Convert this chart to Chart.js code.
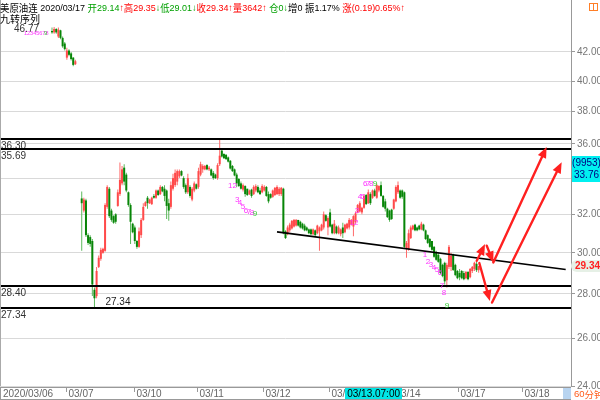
<!DOCTYPE html>
<html><head><meta charset="utf-8">
<script src="https://cdn.jsdelivr.net/npm/chart.js@4.4.0/dist/chart.umd.min.js"></script>
<style>html,body{margin:0;padding:0;background:#fff;overflow:hidden}</style>
</head><body>
<canvas id="c" width="600" height="400"></canvas>
<script>
// ---------- data ----------
const slotCount = 269;      // hourly slots across the plot (incl. empty future space)
const firstSlot = 24;       // slot of the first visible candle
const opens = [
43.5,43.4,43.65,43.1,43.55,43.0,42.6,41.6,42.1,41.9,41.6,41.15,
null,null,
32.86,32.2,32.75,30.9,30.8,30.6,28.2,27.9,29.3,29.7,
30.0,30.1,32.4,33.4,32.2,31.9,32.0,32.45,33.1,33.7,
34.6,34.2,33.2,32.5,31.5,31.3,30.6,30.3,30.9,31.7,
32.45,32.9,32.6,32.55,33.0,32.9,33.3,33.1,33.5,33.4,33.3,
32.6,32.4,33.4,33.6,33.8,34.1,34.4,34.0,33.6,33.2,33.5,
32.8,33.3,33.65,33.5,34.2,34.5,34.5,34.75,34.5,34.5,34.3,
34.2,34.0,34.8,35.6,35.4,35.35,35.2,35.0,34.7,34.5,
34.2,33.95,33.7,33.35,33.55,33.4,33.1,33.35,33.1,33.3,
33.5,33.3,33.2,33.3,33.5,33.1,33.1,32.95,33.05,33.1,
33.1,33.1,33.4,31.1,30.95,31.15,31.25,31.35,31.4,31.7,
31.6,31.5,31.4,31.3,31.2,31.2,30.95,31.15,31.0,31.1,
31.15,31.3,31.95,31.3,32.1,31.45,31.0,31.35,31.0,30.95,
31.3,31.05,31.25,31.3,31.45,31.35,31.6,32.1,32.15,32.1,
32.35,33.05,32.6,33.1,32.9,33.3,32.9,33.3,33.6,
33.0,32.7,32.3,32.2,32.25,32.3,32.7,33.2,33.3,
33.3,33.2,30.2,30.2,30.75,31.2,31.45,31.3,31.4,31.2,
31.45,31.15,30.9,30.7,30.6,30.3,30.0,29.9,29.7,
29.4,29.5,28.65,29.3,29.3,29.9,29.4,29.1,29.0,29.1,
29.0,28.75,29.05,28.8,29.1,29.2,29.45,29.14];
const highs = [
43.75,43.8,43.7,43.75,43.6,43.1,42.7,42.3,42.2,42.0,41.65,41.45,
null,null,
33.25,32.9,32.85,31.0,30.9,30.7,28.3,29.3,29.86,30.25,
30.25,32.6,33.6,33.5,32.3,31.95,32.05,33.35,34.9,34.7,
34.8,34.3,33.25,32.6,31.55,31.4,30.65,31.3,31.8,32.6,
32.7,33.0,32.85,32.95,33.1,33.35,33.35,33.6,33.55,33.6,33.35,
32.85,33.8,34.25,34.5,34.5,34.5,34.45,34.1,33.7,34.25,33.6,
33.5,33.8,33.7,34.6,34.95,34.8,34.75,34.8,34.7,34.55,34.4,
34.25,34.85,36.3,35.7,35.45,35.4,35.25,35.05,34.75,34.55,
34.3,34.0,33.8,33.7,33.6,33.4,33.35,33.4,33.6,33.65,
33.6,33.45,33.65,33.6,33.55,33.25,33.15,33.35,33.5,33.6,
33.5,33.5,33.45,31.15,31.4,31.55,31.7,31.75,31.75,31.7,
31.65,31.55,31.5,31.35,31.25,31.25,31.25,31.2,31.45,31.35,
31.5,32.15,32.0,31.9,32.3,31.5,31.7,31.4,31.4,31.25,
31.55,31.5,31.55,31.8,31.75,31.95,32.15,32.55,32.7,32.4,
33.1,33.1,33.35,33.2,33.35,33.4,33.7,33.6,33.8,
33.05,32.85,32.35,32.25,32.3,32.85,33.6,33.8,33.35,
33.35,33.25,30.6,31.2,31.4,31.45,31.5,31.35,31.45,31.6,
31.5,31.2,30.95,30.75,30.6,30.35,30.1,30.0,29.75,
29.45,29.55,29.5,30.4,30.0,29.95,29.45,29.15,29.2,29.15,
29.1,29.1,29.1,29.25,29.35,29.55,29.6,29.35];
const lows = [
43.3,43.3,43.3,43.0,42.9,42.3,42.1,41.45,41.7,41.4,41.0,41.1,
null,null,
30.1,32.1,30.8,30.4,30.3,27.9,27.34,27.8,29.25,29.6,
29.95,30.05,32.3,31.8,31.6,31.5,31.5,32.4,33.0,33.6,
33.6,33.2,32.4,30.45,31.0,30.45,30.2,30.25,30.75,31.65,
32.4,32.3,32.55,32.5,32.85,32.85,33.0,33.05,33.2,32.7,31.75,
31.65,32.3,33.3,33.5,33.6,34.0,34.1,33.4,33.1,33.1,32.9,
32.7,33.2,33.35,33.4,34.1,34.3,34.45,34.45,34.4,34.1,33.9,
33.95,33.9,34.7,35.2,35.1,35.05,34.9,34.5,34.35,34.1,
33.5,33.5,33.35,33.25,32.95,33.0,33.05,32.9,33.05,33.2,
33.15,33.05,33.15,33.25,32.95,32.6,32.85,32.9,33.0,33.05,
33.0,33.0,30.95,30.7,30.9,31.05,31.2,31.3,31.35,31.35,
31.25,31.2,31.1,31.1,30.95,30.9,30.9,30.85,30.95,30.1,
31.1,31.2,31.6,30.9,31.3,30.95,30.95,30.95,30.95,30.85,
30.75,31.0,31.2,31.2,31.4,30.85,31.5,32.05,32.1,32.0,
32.3,32.5,32.55,32.5,32.85,32.95,32.85,33.2,32.95,
32.35,32.15,31.8,31.6,31.7,32.25,32.65,33.1,32.85,
32.85,30.2,29.75,30.1,30.7,31.15,31.1,31.1,31.15,31.15,
31.1,30.65,30.45,30.25,30.1,29.75,29.6,29.5,28.95,
28.8,28.45,28.3,29.2,29.1,29.1,28.85,28.7,28.65,28.7,
28.65,28.7,28.65,28.75,29.0,29.1,29.05,29.01];
const closes = [
43.4,43.65,43.4,43.6,43.0,42.4,42.2,42.1,41.8,41.5,41.1,41.35,
null,null,
32.6,32.8,30.9,30.5,30.45,28.45,27.8,29.1,29.75,30.15,
30.2,32.5,33.5,31.9,31.7,31.55,31.6,33.2,33.9,34.5,
33.8,33.3,32.5,31.6,31.05,30.6,30.3,31.1,31.7,32.4,
32.65,32.6,32.8,32.9,32.9,33.3,33.05,33.5,33.25,33.0,32.45,
32.2,33.6,34.0,34.3,34.4,34.4,34.15,33.5,33.2,34.0,33.0,
33.4,33.7,33.4,34.4,34.8,34.7,34.7,34.5,34.6,34.15,34.0,
34.0,34.75,35.3,35.25,35.15,35.1,34.95,34.55,34.4,34.15,
33.7,33.55,33.4,33.6,33.1,33.05,33.3,33.0,33.5,33.55,
33.2,33.1,33.55,33.5,33.0,32.7,32.9,33.3,33.45,33.5,
33.4,33.45,31.0,30.75,31.3,31.45,31.65,31.7,31.7,31.4,
31.3,31.25,31.15,31.15,31.0,30.95,31.2,30.9,31.4,31.3,
31.45,32.0,31.65,31.8,31.35,31.0,31.5,31.0,31.3,31.2,
31.0,31.45,31.5,31.7,31.7,31.9,32.05,32.5,32.6,32.35,
33.0,32.55,33.2,32.6,33.3,33.0,33.6,33.55,33.0,
32.4,32.3,31.85,31.7,31.75,32.8,33.5,33.6,32.9,
32.95,30.3,30.5,31.0,31.3,31.4,31.15,31.15,31.2,31.5,
31.15,30.7,30.5,30.3,30.15,29.8,29.65,29.55,29.0,
28.85,28.6,29.4,30.3,29.85,29.15,28.9,28.75,28.8,28.75,
28.7,29.05,28.7,29.2,29.3,29.5,29.14,29.34];

const yTickValues = [24,26,28,30,32,34,36,38,40,42];
const levelPrices = [36.30, 35.69, 28.40, 27.34];
const levelLabels = ['36.30','35.69','28.40','27.34'];
const dayTickSlots = [31,63,93,124,155,185,216,246];
const dayTickLabels = ['03/07','03/10','03/11','03/12','03/13','03/14','03/17','03/18'];
const firstDayLabel = '2020/03/06';
const trendSlots = [130, 266];
const trendPrices = [31.07, 29.17];
const arrowStarts = [[224.1,29.6],[228.8,30.36],[231.9,29.52],[225.3,29.49],[231.3,27.6]];
const arrowEnds   = [[228.0,30.44],[231.9,29.52],[257.0,35.82],[230.3,27.67],[264.1,34.92]];
const tdSlots  = [109.0,111.2,112.6,114.0,115.4,116.8,118.2,119.6, 166.3,167.7,169.1,170.5,171.6,173.0,174.4,176.2, 199.7,201.1,202.5,204.0,205.4,206.8,207.7,208.7,210.1];
const tdPrices = [33.54,32.76,32.60,32.38,32.21,32.11,32.06,32.0, 31.57,32.21,32.93,32.93,33.66,33.66,33.66,33.66, 29.92,29.57,29.42,29.27,29.17,29.03,28.40,28.06,27.46];
const tdTexts  = ['12','3','4','5','6','7','8','9', '12','3','4','5','6','7','8','9', '1','2','3','4','5','6','7','8','9'];
const lowMarkSlot = 44, lowMarkPrice = 27.34;
const highMarkText = '46.77';
const lastPrice = 29.34;
const crossLabel = '03/13.07:00', crossSlot = 175.5, crossPrice = 33.76;
const infoValue = '(9953)', infoPrice = '33.76';
const headerParts = [
  ['美原油连 ','#000'],['2020/03/17 ','#000'],['开29.14','#00a000'],['↑','#f00'],
  ['高29.35','#f00'],['↓','#00a000'],['低29.01','#00a000'],['↓','#00a000'],
  ['收29.34','#f00'],['↑','#f00'],['量3642','#f00'],['↑','#f00'],[' 仓0','#00a000'],['↓','#00a000'],
  ['增0 ','#000'],['振1.17% ','#000'],['涨(0.19)0.65%↑','#f00']
];

// ---------- build ----------
const UP='#ff4a4a', UPW='#ff6a6a', DN='#078507', DNW='#5cb85c';
const labels = Array.from({length:slotCount},(_,i)=>String(i));
const wick = new Array(slotCount).fill(null), body = new Array(slotCount).fill(null), isUp = new Array(slotCount).fill(true);
opens.forEach((o,k)=>{
  if(o==null) return;
  const s = firstSlot+k, c = closes[k];
  let lo = Math.min(o,c), hi = Math.max(o,c);
  if(hi-lo<0.03){hi+=0.015;lo-=0.015;}
  wick[s] = [Math.min(lows[k],lo), Math.max(highs[k],hi)];
  body[s] = [lo,hi];
  isUp[s] = c>=o;
});
const trend = new Array(slotCount).fill(null);
trendSlots.forEach((s,i)=>{trend[s]=trendPrices[i];});

Chart.defaults.font.family = "'Liberation Sans', Arial, sans-serif";
const FONT = "'Liberation Sans', 'Noto Sans CJK SC', sans-serif";
const CJKFONT = "'Noto Sans CJK SC', sans-serif";

function mixedWidth(ctx, text, latinPx, cjkPx){
  let w=0;
  for(const ch of text){
    ctx.font = (ch.charCodeAt(0)>=0x2E80 ? cjkPx+'px '+CJKFONT : latinPx+'px '+FONT);
    w += ctx.measureText(ch).width;
  }
  return w;
}
function drawMixed(ctx, text, x, y, color, latinPx, cjkPx){
  ctx.fillStyle=color;
  for(const ch of text){
    ctx.font = (ch.charCodeAt(0)>=0x2E80 ? cjkPx+'px '+CJKFONT : latinPx+'px '+FONT);
    ctx.fillText(ch,x,y);
    x += ctx.measureText(ch).width;
  }
  return x;
}

const overlay = {
  id:'overlay',
  afterDatasetsDraw(chart){
    const ctx=chart.ctx, xs=chart.scales.x, ys=chart.scales.y, ca=chart.chartArea;
    ctx.save();
    // level lines
    levelPrices.forEach((p,i)=>{
      const y=Math.round(ys.getPixelForValue(p));
      ctx.fillStyle='#000';
      ctx.fillRect(ca.left, y-1, ca.right-ca.left, 2);
      ctx.font='10px '+FONT; ctx.textBaseline='top'; ctx.fillStyle='#333';
      ctx.fillText(levelLabels[i], 1, y+2);
    });
    // arrows
    ctx.strokeStyle='#ff2020'; ctx.fillStyle='#ff2020'; ctx.lineWidth=2.4; ctx.lineCap='round';
    arrowStarts.forEach((a,i)=>{
      const b=arrowEnds[i];
      const x1=xs.getPixelForValue(a[0]), y1=ys.getPixelForValue(a[1]);
      const x2=xs.getPixelForValue(b[0]), y2=ys.getPixelForValue(b[1]);
      const ang=Math.atan2(y2-y1,x2-x1), L=11, W=4.5;
      const bx=x2-L*Math.cos(ang), by=y2-L*Math.sin(ang);
      ctx.beginPath(); ctx.moveTo(x1,y1); ctx.lineTo(bx,by); ctx.stroke();
      ctx.beginPath(); ctx.moveTo(x2,y2);
      ctx.lineTo(bx+W*Math.sin(ang), by-W*Math.cos(ang));
      ctx.lineTo(bx-W*Math.sin(ang), by+W*Math.cos(ang));
      ctx.closePath(); ctx.fill();
    });
    // TD sequence digits
    ctx.font='8px '+FONT; ctx.textBaseline='middle'; ctx.textAlign='center';
    tdTexts.forEach((t,i)=>{
      ctx.fillStyle = t==='9' ? '#33cc33' : '#ff33ff';
      ctx.fillText(t, xs.getPixelForValue(tdSlots[i]), ys.getPixelForValue(tdPrices[i]));
    });
    // low label
    ctx.textAlign='left'; ctx.font='10px '+FONT; ctx.fillStyle='#222';
    ctx.fillText('27.34', xs.getPixelForValue(lowMarkSlot)+11, ys.getPixelForValue(lowMarkPrice)-6);
    ctx.restore();
  },
  afterDraw(chart){
    const ctx=chart.ctx, xs=chart.scales.x, ys=chart.scales.y, ca=chart.chartArea;
    const W=chart.width, H=chart.height, slotW=(ca.right-ca.left)/slotCount;
    ctx.save();
    // frame
    ctx.strokeStyle='#aaa'; ctx.lineWidth=1;
    ctx.beginPath(); ctx.moveTo(0.5,0); ctx.lineTo(0.5,ca.bottom); ctx.stroke();
    // bottom strip
    const st=ca.bottom+1;
    ctx.fillStyle='#fff'; ctx.fillRect(0,st,ca.right,H-st);
    ctx.strokeStyle='#999';
    ctx.strokeRect(0.5, st+0.5, ca.right-1, H-st-1);
    ctx.font='10px '+FONT; ctx.textBaseline='middle'; ctx.textAlign='left'; ctx.fillStyle='#666';
    const ly=st+7;
    ctx.fillText(firstDayLabel, 3, ly);
    dayTickSlots.forEach((s,i)=>{
      const px=Math.round(xs.getPixelForValue(s)-slotW/2)+0.5;
      ctx.beginPath(); ctx.moveTo(px,st+1); ctx.lineTo(px,st+5); ctx.stroke();
      ctx.fillText(dayTickLabels[i], px+2, ly);
    });
    // crosshair time box
    const cx=xs.getPixelForValue(crossSlot);
    ctx.font='10px '+FONT;
    const cw=ctx.measureText(crossLabel).width+4;
    ctx.fillStyle='#00e6e6'; ctx.fillRect(Math.round(cx-cw/2), st+1, Math.round(cw), H-st-2);
    ctx.fillStyle='#000'; ctx.textAlign='center'; ctx.fillText(crossLabel, cx, ly);
    // period box
    ctx.fillStyle='#b8d4f0'; ctx.fillRect(ca.right-8, st+1, 8, H-st-2);
    ctx.textAlign='left';
    drawMixed(ctx,'60分钟', ca.right+3, ly, '#ff5a1a', 9.5, 9.5);
    // right info box (crosshair price)
    const iy=Math.round(ys.getPixelForValue(crossPrice));
    ctx.fillStyle='#00f0f0'; ctx.fillRect(ca.right+1, iy-26, W-ca.right-1, 26);
    ctx.fillStyle='#000080'; ctx.textAlign='center'; ctx.font='10px '+FONT;
    ctx.fillText(infoValue, (ca.right+W)/2+1, iy-19);
    ctx.fillText(infoPrice, (ca.right+W)/2+1, iy-7);
    // last price tag
    const ty=ys.getPixelForValue(lastPrice);
    ctx.fillStyle='#e6f0e6';
    ctx.beginPath(); ctx.moveTo(ca.right+6,ty-6); ctx.lineTo(W,ty-6); ctx.lineTo(W,ty+6); ctx.lineTo(ca.right+6,ty+6); ctx.arc(ca.right+6,ty,6,Math.PI/2,Math.PI*1.5); ctx.fill();
    ctx.fillStyle='#ff2020'; ctx.font='bold 10px '+FONT;
    ctx.fillText(lastPrice.toFixed(2), (ca.right+W)/2+2, ty);
    // icon
    ctx.strokeStyle='#ff7f27'; ctx.lineWidth=1;
    ctx.strokeRect(589.5,3.5,8,7); ctx.beginPath(); ctx.moveTo(593.5,3.5); ctx.lineTo(593.5,10.5); ctx.stroke();
    // header (condensed to the reference width)
    ctx.textAlign='left'; ctx.textBaseline='middle';
    let total=0; headerParts.forEach(([t])=>{ total+=mixedWidth(ctx,t,9.5,10); });
    const sx=Math.min(1, 405/total);
    ctx.save(); ctx.scale(sx,1);
    let hx=0;
    headerParts.forEach(([t,c])=>{ hx=drawMixed(ctx,t,hx,8,c,9.5,10); });
    ctx.restore();
    drawMixed(ctx,'九转序列',0,19,'#000',10,10);
    ctx.fillStyle='#333'; ctx.font='10px '+FONT; ctx.fillText(highMarkText,14,29);
    ctx.font='5.5px '+FONT; ctx.fillStyle='#ff33ff'; ctx.fillText('12345678',24,33);
    ctx.fillStyle='#33cc33'; ctx.fillText('9',44,33);
    ctx.restore();
  }
};

new Chart(document.getElementById('c'), {
  type:'bar',
  data:{ labels, datasets:[
    {type:'line', data:trend, borderColor:'#000', borderWidth:1.6, pointRadius:0, spanGaps:true, order:-1},
    {data:body, grouped:false, barThickness:2, inflateAmount:0, order:0,
     backgroundColor:c=>isUp[c.dataIndex]?UP:DN},
    {data:wick, grouped:false, barThickness:1, inflateAmount:0, order:1,
     backgroundColor:c=>isUp[c.dataIndex]?UPW:DNW}
  ]},
  options:{
    responsive:false, animation:false, devicePixelRatio:1,
    layout:{padding:{left:0,right:0,top:0,bottom:14}},
    plugins:{legend:{display:false}, tooltip:{enabled:false}},
    scales:{
      x:{display:false, offset:true, grid:{display:false}},
      y:{type:'logarithmic', position:'right', min:24, max:45.82,
         afterFit(s){s.width=29; s.paddingTop=0; s.paddingBottom=0;},
         afterBuildTicks(s){s.ticks=yTickValues.map(v=>({value:v}));},
         ticks:{callback:v=>Number(v).toFixed(2), color:'#777', font:{size:10}, padding:2, autoSkip:false},
         grid:{color:'#d9d9d9', tickLength:4, drawTicks:true, tickColor:'#999'},
         border:{display:true, color:'#999'}}
    }
  },
  plugins:[overlay]
});
</script>
</body></html>
